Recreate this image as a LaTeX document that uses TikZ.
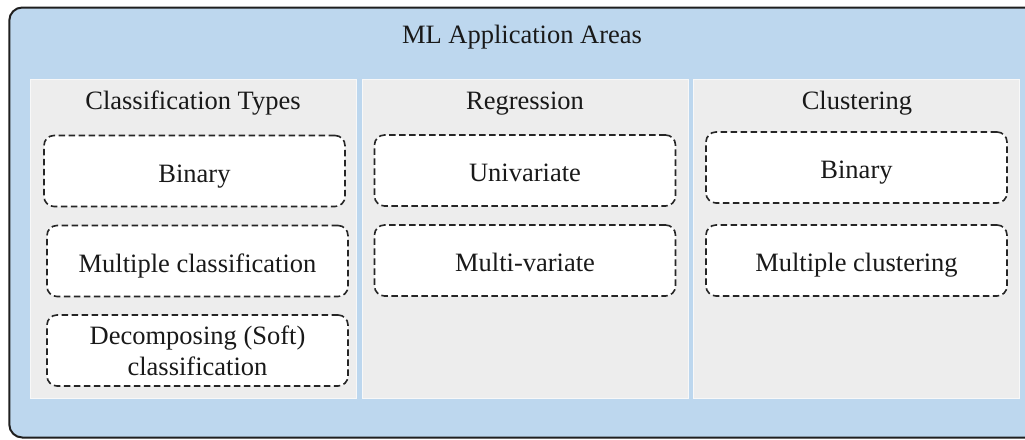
\documentclass[tikz,border=0pt]{standalone}
\usepackage{fontspec}
\setmainfont{Liberation Serif}
\begin{document}
\begin{tikzpicture}[x=1pt,y=-1pt,
  font=\fontsize{26.5}{31}\selectfont,
  outerbox/.style={draw=black!88, line width=2pt, fill=areablue, rounded corners=13pt,
    inner sep=0pt, outer sep=0pt},
  panel/.style={draw=white!60!panelgray, line width=1pt, fill=panelgray,
    minimum width=326pt, minimum height=319.5pt, inner sep=0pt, outer sep=0pt},
  title/.style={text=black!90, inner sep=0pt, text height=18pt, text depth=6pt},
  itembox/.style={draw=black!85, dash pattern=on 6.5pt off 3.5pt, line width=1.6pt,
    fill=white, rounded corners=10pt, minimum width=301pt, minimum height=71pt,
    text=black!90, align=center, inner sep=0pt, outer sep=0pt},
  oneline/.style={text height=23pt, text depth=1pt},
]
\definecolor{areablue}{HTML}{BDD7EE}
\definecolor{panelgray}{HTML}{EDEDED}
\clip (0,0) rectangle (1025,439);

% outer container, running past the right edge
\node[outerbox, minimum width=1035.7pt, minimum height=430pt] (area) at (527.15,222.5) {};
\node[title] (areatitle) at (522,37.5) {ML Application Areas};

% the three columns
\node[panel] (pclass) at (193.75,238.75) {};
\node[panel] (preg)   at (525,238.75) {};
\node[panel] (pclust) at (856.75,238.75) {};

\node[title] (tclass) at (193,103.5) {Classification Types};
\node[title] (treg)   at (525,103.5) {Regression};
\node[title] (tclust) at (857,103.5) {Clustering};

% classification types
\node[itembox, oneline] (cbin)   at (194.5,171) {Binary};
\node[itembox, oneline] (cmulti) at (197.5,261) {Multiple classification};
\node[itembox] (csoft)  at (197.5,350.5) {Decomposing (Soft)\\classification};

% regression
\node[itembox, oneline] (runi)   at (525,170.5) {Univariate};
\node[itembox, oneline] (rmulti) at (525,260.5) {Multi-variate};

% clustering
\node[itembox, oneline] (kbin)   at (856.5,167.5) {Binary};
\node[itembox, oneline] (kmulti) at (856.5,260.5) {Multiple clustering};
\end{tikzpicture}
\end{document}
